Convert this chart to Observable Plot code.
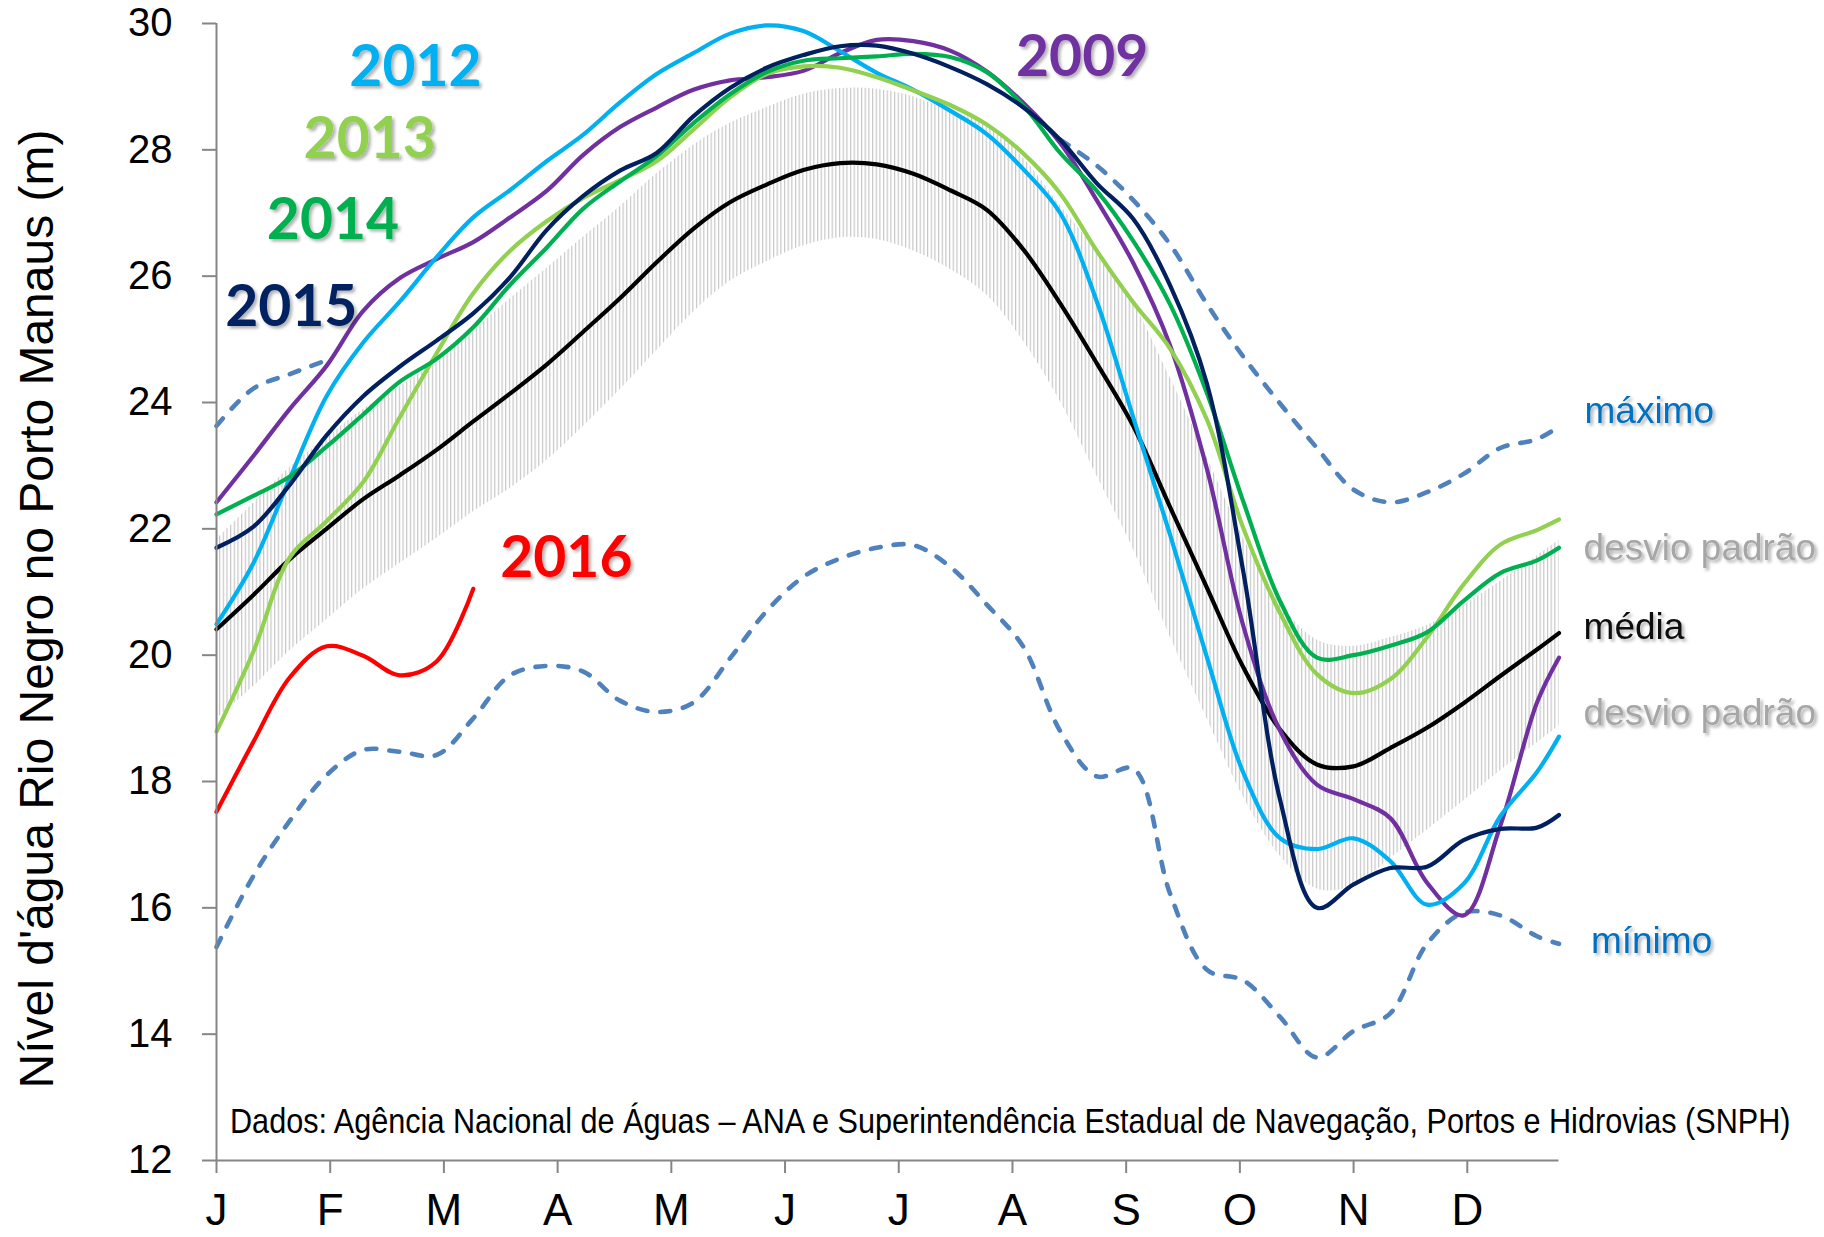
<!DOCTYPE html>
<html>
<head>
<meta charset="utf-8">
<script src="https://cdn.jsdelivr.net/npm/d3@7"></script>
<script src="https://cdn.jsdelivr.net/npm/@observablehq/plot@0.6"></script>
<style>
  html, body { margin: 0; padding: 0; background: #fff; overflow: hidden; }
  svg { display: block; }
</style>
</head>
<body>
<div id="chart"></div>
<script>
// ---- DATA ----
// day of year (0 = 1 Jan)
const days = [0,10,20,30,40,50,60,70,80,90,100,110,120,130,140,150,160,170,180,190,200,210,220,230,240,250,260,270,280,290,300,310,320,330,340,350,360,366];

const monthTickDays = [0,31,62,93,124,155,186,217,248,279,310,341];
const monthLabels = ["J","F","M","A","M","J","J","A","S","O","N","D"];
const yTicks = [12,14,16,18,20,22,24,26,28,30];

const media = [20.41,20.95,21.52,22.0,22.47,22.85,23.25,23.7,24.14,24.6,25.12,25.65,26.22,26.75,27.17,27.45,27.68,27.79,27.77,27.62,27.36,27.05,26.42,25.57,24.62,23.62,22.34,21.07,19.8,18.82,18.27,18.24,18.53,18.85,19.24,19.67,20.09,20.35];

const desvioPadrao = [1.42,1.45,1.45,1.44,1.42,1.4,1.4,1.43,1.5,1.52,1.5,1.45,1.4,1.32,1.25,1.22,1.2,1.18,1.19,1.22,1.25,1.35,1.45,1.55,1.78,1.95,2.05,2.07,2.05,2.0,1.97,1.9,1.75,1.62,1.55,1.5,1.48,1.47];

const maximo = [23.63,24.22,24.45,24.67,null,null,null,null,null,null,null,null,null,null,null,null,null,null,null,null,null,null,null,28.16,27.75,27.2,26.5,25.56,24.72,23.98,23.28,22.62,22.42,22.58,22.87,23.28,23.42,23.62];

const minimo = [15.38,16.5,17.38,18.1,18.5,18.47,18.42,19.0,19.68,19.83,19.74,19.28,19.1,19.25,19.95,20.7,21.24,21.53,21.7,21.74,21.4,20.8,20.13,18.8,18.08,18.2,16.22,15.02,14.85,14.27,13.63,14.05,14.33,15.43,15.92,15.88,15.55,15.43];

const y2009 = [22.42,23.15,23.9,24.58,25.45,25.97,26.27,26.54,26.93,27.35,27.92,28.36,28.67,28.95,29.1,29.15,29.25,29.53,29.74,29.72,29.57,29.24,28.74,28.11,27.2,26.2,24.9,22.95,20.45,18.8,17.95,17.72,17.42,16.4,15.88,17.3,19.25,19.96];

const y2012 = [20.49,21.45,22.8,24.1,24.95,25.6,26.3,26.93,27.36,27.82,28.24,28.75,29.2,29.53,29.84,29.97,29.88,29.56,29.22,28.95,28.62,28.25,27.69,27.0,25.6,23.75,21.9,19.97,18.13,17.1,16.93,17.1,16.74,16.05,16.38,17.45,18.15,18.71];

const y2013 = [18.79,20.05,21.55,22.12,22.74,23.77,24.78,25.73,26.4,26.87,27.24,27.52,27.82,28.32,28.83,29.2,29.32,29.3,29.15,28.94,28.71,28.4,27.94,27.31,26.4,25.58,24.85,23.73,22.0,20.66,19.7,19.4,19.62,20.28,21.12,21.75,21.98,22.15];

const y2014 = [22.23,22.52,22.83,23.3,23.81,24.33,24.69,25.19,25.86,26.45,27.07,27.5,27.9,28.42,28.88,29.23,29.41,29.45,29.48,29.52,29.47,29.23,28.7,27.95,27.35,26.55,25.55,24.15,22.42,20.85,19.96,20.0,20.15,20.36,20.86,21.3,21.5,21.7];

const y2015 = [21.7,22.03,22.7,23.48,24.1,24.57,24.98,25.41,25.98,26.73,27.27,27.67,27.95,28.53,28.98,29.3,29.5,29.64,29.65,29.52,29.31,29.04,28.67,28.16,27.47,26.9,25.85,24.3,21.3,17.7,16.0,16.37,16.63,16.65,17.07,17.25,17.27,17.47];

const y2016 = [17.52,18.62,19.65,20.14,19.99,19.68,19.9,21.05];

const caption = "Dados: Agência Nacional de Águas – ANA e Superintendência Estadual de Navegação, Portos e Hidrovias (SNPH)";
const yTitle = "Nível d'água Rio Negro no Porto Manaus (m)";

// ---- helpers ----
const rowsOf = (vals) => days.map((d, i) => ({day: d, v: (vals[i] == null ? NaN : vals[i])}));
const band = days.map((d, i) => ({day: d, lo: media[i] - desvioPadrao[i], hi: media[i] + desvioPadrao[i]}));

const line = (vals, color, extra = {}) =>
  Plot.line(rowsOf(vals), {x: "day", y: "v", stroke: color, strokeWidth: 4.2, curve: "catmull-rom", strokeLinejoin: "round", strokeLinecap: "round", ...extra});

const dashed = {strokeDasharray: "10,13", strokeLinecap: "round", strokeWidth: 4.6};

const yearLabel = (t, x, y, color) =>
  Plot.text([t], {x: () => x, y: () => y, text: d => d, fill: color, fontSize: 57, fontWeight: "bold",
    fontFamily: "Lato, 'Open Sans', sans-serif", textAnchor: "middle", lineAnchor: "middle"});

const sideLabel = (t, x, y, color) =>
  Plot.text([t], {x: () => x, y: () => y, text: d => d, fill: color, fontSize: 37,
    fontFamily: "'Liberation Sans', Arial, sans-serif", textAnchor: "start", lineAnchor: "middle"});

const chart = Plot.plot({
  width: 1824,
  height: 1237,
  marginLeft: 216,
  marginRight: 265.5,
  marginTop: 23,
  marginBottom: 77,
  style: {fontFamily: "'Liberation Sans', Arial, sans-serif", background: "#fff", overflow: "visible"},
  x: {domain: [0, 366]},
  y: {domain: [12, 30]},
  marks: [
    Plot.areaY(band, {x: "day", y1: "lo", y2: "hi", fill: "#cdcdcd", curve: "catmull-rom"}),
    line(maximo, "#4F81BD", dashed),
    line(minimo, "#4F81BD", dashed),
    line(media, "#000000"),
    line(y2009, "#7030A0"),
    line(y2012, "#00B0F0"),
    line(y2013, "#92D050"),
    line(y2014, "#00B050"),
    line(y2015, "#002060"),
    line(y2016, "#FF0000"),
    Plot.ruleX([0], {stroke: "#868686", strokeWidth: 2}),
    Plot.ruleY([12], {stroke: "#868686", strokeWidth: 2}),
    Plot.axisY({ticks: yTicks, tickSize: 14, tickPadding: 30, fontSize: 40, stroke: "#868686", strokeWidth: 2, label: null, tickFormat: d => String(d)}),
    Plot.axisX({ticks: monthTickDays, tickSize: 13, tickPadding: 20, fontSize: 44, stroke: "#868686", strokeWidth: 2, label: null,
      tickFormat: d => monthLabels[monthTickDays.indexOf(d)]}),
    yearLabel("2012", 54.25, 29.30, "#00B0F0"),
    yearLabel("2013", 41.77, 28.16, "#92D050"),
    yearLabel("2014", 31.76, 26.88, "#00B050"),
    yearLabel("2015", 20.39, 25.50, "#002060"),
    yearLabel("2009", 236.0, 29.45, "#7030A0"),
    yearLabel("2016", 95.37, 21.53, "#FF0000"),
    sideLabel("máximo", 372.95, 23.86, "#0070C0"),
    sideLabel("desvio padrão", 372.7, 21.70, "#A6A6A6"),
    sideLabel("média", 372.7, 20.44, "#0D0D0D"),
    sideLabel("desvio padrão", 372.7, 19.08, "#A6A6A6"),
    sideLabel("mínimo", 374.7, 15.48, "#0070C0")
  ]
});

document.getElementById("chart").appendChild(chart);

// ---- post-processing: hatch pattern for std-dev band, text shadows, titles ----
const svg = d3.select(chart);
const xs = chart.scale("x");
const px0 = xs.apply(0);
const pxDay = xs.apply(1) - xs.apply(0);
const defs = svg.insert("defs", ":first-child");
const pat = defs.append("pattern")
  .attr("id", "hatch").attr("patternUnits", "userSpaceOnUse")
  .attr("x", px0 - 0.6).attr("y", 0).attr("width", pxDay).attr("height", 20);
pat.append("rect").attr("x", 0).attr("y", 0).attr("width", 1.2).attr("height", 20).attr("fill", "#c6c6c6");
svg.selectAll('g[aria-label="area"]').attr("fill", "url(#hatch)");
svg.selectAll('g[aria-label="area"] path').attr("fill", "url(#hatch)");

const flt = defs.append("filter").attr("id", "shadow")
  .attr("x", "-10%").attr("y", "-30%").attr("width", "130%").attr("height", "170%");
flt.append("feDropShadow").attr("dx", 2.5).attr("dy", 2.5).attr("stdDeviation", 1.6)
  .attr("flood-color", "#000").attr("flood-opacity", 0.3);
svg.selectAll('g[aria-label="text"] text').attr("filter", "url(#shadow)");

svg.append("text")
  .attr("transform", "translate(53,609) rotate(-90)")
  .attr("text-anchor", "middle")
  .attr("font-family", "'Liberation Sans', Arial, sans-serif")
  .attr("font-size", 48)
  .attr("fill", "#000")
  .text(yTitle);

// caption: condensed horizontally to the reference width (1561 px) by a scale transform
const cap = svg.append("text")
  .attr("x", 0).attr("y", 0)
  .attr("text-anchor", "start")
  .attr("font-family", "'Liberation Sans Narrow', 'Liberation Sans', Arial, sans-serif")
  .attr("font-size", 35)
  .attr("fill", "#000")
  .text(caption);
const natural = cap.node().getComputedTextLength() || 1561;
const sx = Math.min(1, 1561 / natural);
cap.attr("transform", `translate(230,1133) scale(${sx},1)`);
</script>
</body>
</html>
